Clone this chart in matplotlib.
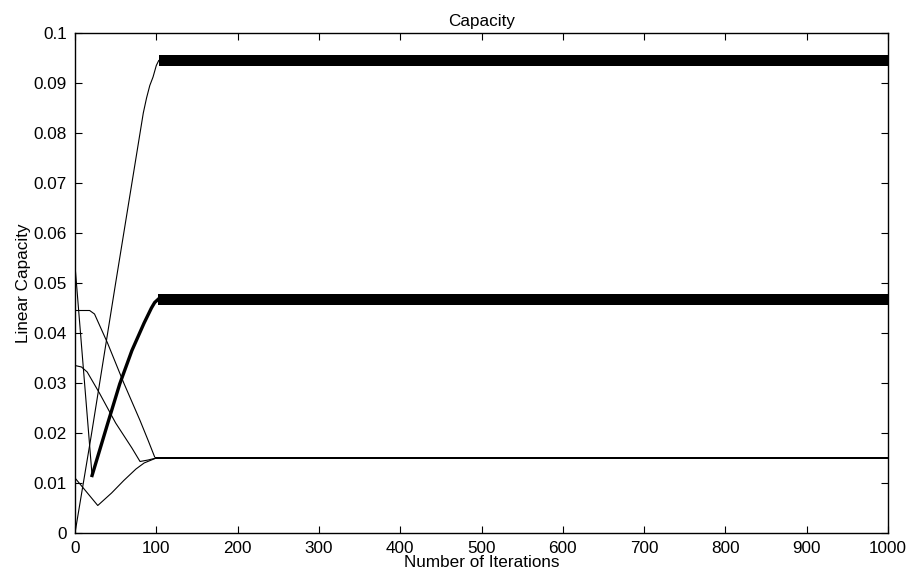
import matplotlib
matplotlib.use("Agg")
import matplotlib.pyplot as plt

plt.rcParams['font.family'] = ['Liberation Sans', 'DejaVu Sans']

# Transient part of each capacity trace: (iteration, linear capacity)
iter_a = [0, 20, 50, 84, 88, 92, 96, 100, 103]
cap_a = [0.0, 0.0195, 0.0500, 0.0840, 0.0870, 0.0895, 0.0912, 0.0935, 0.0945]

iter_b = [0, 21, 40, 55, 70, 85, 94, 98, 102]
cap_b = [0.0535, 0.0115, 0.0218, 0.0298, 0.0365, 0.0420, 0.0450, 0.0461, 0.0467]

iter_c = [0, 18, 24, 40, 60, 80, 90, 98]
cap_c = [0.0445, 0.0445, 0.0438, 0.0380, 0.0300, 0.0225, 0.0185, 0.0152]

iter_d = [0, 8, 15, 30, 50, 70, 80, 90, 100]
cap_d = [0.0335, 0.0332, 0.0322, 0.0280, 0.0220, 0.0170, 0.0143, 0.0146, 0.0150]

iter_e = [0, 28, 45, 60, 75, 85, 100]
cap_e = [0.0110, 0.0055, 0.0080, 0.0105, 0.0128, 0.0140, 0.0150]

# Steady-state oscillation envelopes: (start iteration, lower, upper)
steady_a = (103, 0.0934, 0.0956)
steady_b = (102, 0.0456, 0.0479)
steady_low = (98, 0.0148, 0.0152)

x_max = 1000
x_ticks = list(range(0, 1001, 100))
y_ticks = [0, 0.01, 0.02, 0.03, 0.04, 0.05, 0.06, 0.07, 0.08, 0.09, 0.1]
y_tick_labels = ['0', '0.01', '0.02', '0.03', '0.04', '0.05', '0.06', '0.07', '0.08', '0.09', '0.1']

fig = plt.figure(figsize=(9.12, 5.73), dpi=100)
ax = fig.add_axes([75 / 912, 1 - 533 / 573, 813 / 912, 500 / 573])

lw = 0.8
ax.plot(iter_a, cap_a, color='black', lw=lw)
ax.plot(iter_b[:2], cap_b[:2], color='black', lw=lw)
ax.plot(iter_b[1:], cap_b[1:], color='black', lw=2.4, solid_joinstyle='miter')
ax.plot(iter_c, cap_c, color='black', lw=lw)
ax.plot(iter_d, cap_d, color='black', lw=lw)
ax.plot(iter_e, cap_e, color='black', lw=lw)

for start, lo, hi in (steady_a, steady_b, steady_low):
    ax.fill_between([start, x_max], [lo, lo], [hi, hi], color='black', lw=0)

ax.set_xlim(0, x_max)
ax.set_ylim(0, 0.1)
ax.set_xticks(x_ticks)
ax.set_yticks(y_ticks)
ax.set_yticklabels(y_tick_labels)
ax.tick_params(direction='in', length=5, width=0.8, top=True, right=True,
               labelsize=12.3, pad=6)
for s in ax.spines.values():
    s.set_linewidth(1.0)

ax.set_title('Capacity', fontsize=12.3, pad=5)
ax.set_xlabel('Number of Iterations', fontsize=12.3, labelpad=-1)
ax.set_ylabel('Linear Capacity', fontsize=12.3, labelpad=2)

fig.savefig('out.png', dpi=100)
